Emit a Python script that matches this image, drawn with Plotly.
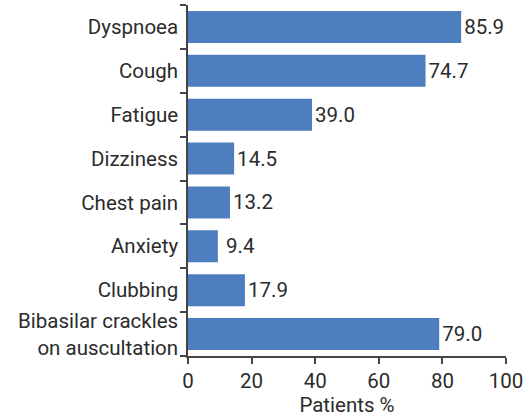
import plotly.graph_objects as go

categories = ["Dyspnoea", "Cough", "Fatigue", "Dizziness", "Chest pain", "Anxiety",
              "Clubbing", "Bibasilar crackles<br>on auscultation"]
values = [85.9, 74.7, 39.0, 14.5, 13.2, 9.4, 17.9, 79.0]
labels = ["85.9", "74.7", "39.0", "14.5", "13.2", " 9.4", "17.9", "79.0"]
x_ticks = [0, 20, 40, 60, 80, 100]

font_family = "Roboto"
fs = 20.5
txt_color = "#2b2b2b"
axis_color = "#444444"

fig = go.Figure(go.Bar(
    x=values, y=categories, orientation="h",
    marker=dict(color="#4f7ec0", line=dict(width=0)),
    text=labels, textposition="outside", cliponaxis=False,
    textfont=dict(family=font_family, size=fs, color=txt_color),
))

fig.update_layout(
    width=525, height=417,
    margin=dict(l=188, r=19, t=5, b=61),
    paper_bgcolor="white", plot_bgcolor="white",
    bargap=0.27, showlegend=False,
    font=dict(family=font_family, size=fs, color=txt_color),
)
fig.update_xaxes(
    range=[0, 100], tickvals=x_ticks, ticktext=[str(t) for t in x_ticks],
    showgrid=False, zeroline=False, showline=True, linecolor=axis_color, linewidth=1.5,
    ticks="outside", ticklen=6, tickcolor=axis_color, tickwidth=1.5,
    title=dict(text="Patients %", standoff=2, font=dict(size=fs)),
    tickfont=dict(size=fs), automargin=False,
)
fig.update_yaxes(
    categoryorder="array", categoryarray=categories[::-1],
    showgrid=False, zeroline=False, showline=True, linecolor=axis_color, linewidth=1.5,
    ticks="outside", ticklen=6, tickcolor=axis_color, tickwidth=1.5, tickson="boundaries",
    tickfont=dict(size=fs), ticklabelstandoff=4, automargin=False,
)

fig.write_html("out.html", config={"displayModeBar": False},
               post_script="document.body.style.margin='0';document.body.style.overflow='hidden';")
